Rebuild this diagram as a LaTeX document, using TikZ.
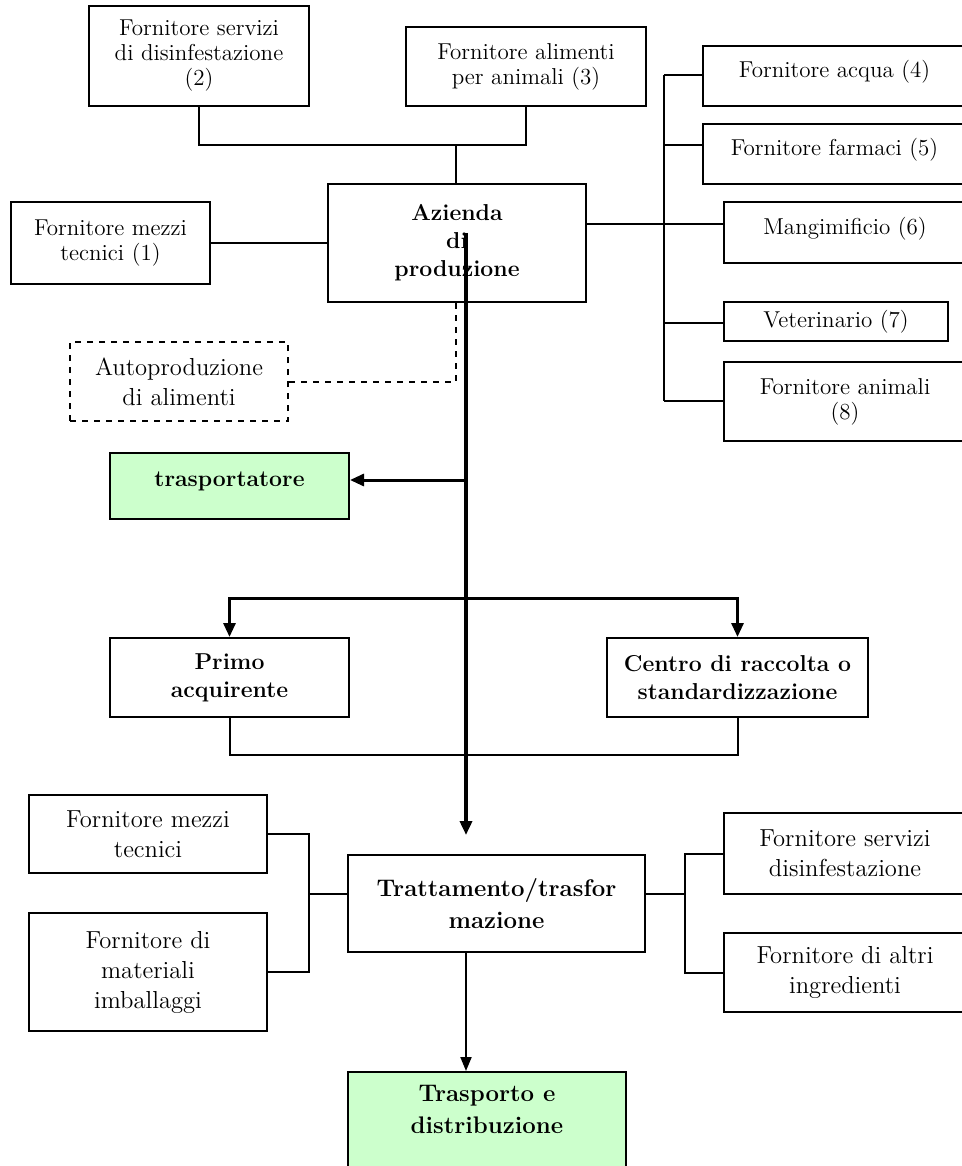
\documentclass[tikz,border=0pt]{standalone}
\usepackage{tikz}
\usetikzlibrary{arrows.meta,positioning}
\definecolor{paleGreen}{HTML}{CCFFCC}

\begin{document}
\begin{tikzpicture}[
  x=0.5pt, y=-0.5pt,
  sup_box/.style ={draw=black, line width=1pt, align=center, inner sep=2pt, font=\fontsize{11.5}{12.5}\selectfont},
  main_box/.style={draw=black, line width=1pt, align=center, inner sep=2pt, font=\fontsize{11.5}{14}\selectfont\bfseries},
  low_box/.style ={draw=black, line width=1pt, align=center, inner sep=2pt, font=\fontsize{12.3}{15}\selectfont},
  low_main/.style={draw=black, line width=1pt, align=center, inner sep=2pt, font=\fontsize{12}{16}\selectfont\bfseries},
  green_box/.style={fill=paleGreen},
  top_text/.style={text depth=7pt},
  link/.style    ={line width=1pt, black},
  arr/.style     ={-{Triangle[length=7pt, width=6pt]}, line width=2pt, black},
  arr_mid/.style ={-{Triangle[length=7pt, width=6pt]}, line width=1.5pt, black},
  arr_thin/.style={-{Triangle[length=7pt, width=5.5pt]}, line width=1pt, black},
]
  \useasboundingbox (0,0) rectangle (962,1166);
  \fill[white] (0,0) rectangle (962,1166);
  \clip (0,0) rectangle (962,1166);

  % production farm and its suppliers
  \node[sup_box, minimum width=110pt, minimum height=50pt]                (sup2)  at (199,56)      {Fornitore servizi\\di disinfestazione\\(2)};
  \node[sup_box, minimum width=120pt, minimum height=39.5pt]              (sup3)  at (526,66.5)    {Fornitore alimenti\\per animali (3)};
  \node[main_box, minimum width=129pt, minimum height=59pt]               (az)    at (457,243)     {Azienda\\di\\produzione};
  \node[sup_box, minimum width=99.5pt, minimum height=41pt]               (sup1)  at (110.5,243)   {Fornitore mezzi\\tecnici (1)};
  \node[sup_box, top_text, minimum width=131.5pt, minimum height=30pt]    (sup4)  at (834.5,76)    {Fornitore acqua (4)};
  \node[sup_box, top_text, minimum width=131.5pt, minimum height=30pt]    (sup5)  at (834.5,154)   {Fornitore farmaci (5)};
  \node[sup_box, top_text, minimum width=121pt, minimum height=30.5pt]    (sup6)  at (845,232.5)   {Mangimificio (6)};
  \node[sup_box, minimum width=112pt, minimum height=19.5pt]              (sup7)  at (836,321.5)   {Veterinario (7)};
  \node[sup_box, minimum width=121pt, minimum height=39.5pt]              (sup8)  at (845,401.5)   {Fornitore animali\\(8)};
  \node[low_box, dashed, minimum width=109pt, minimum height=39.5pt]      (auto)  at (179,381.5)   {Autoproduzione\\di alimenti};
  \node[main_box, green_box, top_text, minimum width=119.5pt, minimum height=33pt] (trasp) at (229.5,486) {trasportatore};
  \node[main_box, minimum width=119.5pt, minimum height=39.5pt]           (primo) at (229.5,677.5) {Primo\\acquirente};
  \node[main_box, minimum width=130.5pt, minimum height=39.5pt]           (centro) at (737.5,677.5) {Centro di raccolta o\\standardizzazione};

  % processing stage
  \node[low_box, minimum width=119pt, minimum height=39pt]                (tech)   at (148,834)     {Fornitore mezzi\\tecnici};
  \node[low_box, minimum width=119pt, minimum height=59pt]                (pack)   at (148,972)     {Fornitore di\\materiali\\imballaggi};
  \node[low_main, minimum width=148.5pt, minimum height=48.5pt]           (trat)   at (496.5,903.5) {Trattamento/trasfor\\mazione};
  \node[low_box, minimum width=121pt, minimum height=40.5pt]              (disinf) at (845,853.5)   {Fornitore servizi\\disinfestazione};
  \node[low_box, minimum width=121pt, minimum height=39.5pt]              (ingr)   at (845,972.5)   {Fornitore di altri\\ingredienti};
  \node[low_main, green_box, text depth=27pt, minimum width=139pt, minimum height=64pt] (distr) at (487,1136) {Trasporto e\\distribuzione};

  \coordinate (topj) at (456,145);
  \coordinate (rb4) at (664,75);
  \coordinate (rb5) at (664,145);
  \coordinate (rb6) at (664,224);
  \coordinate (rb7) at (664,323);
  \coordinate (rb8) at (664,401);
  \coordinate (spine) at (466,233);
  \coordinate (spine_end) at (466,835);
  \coordinate (tr) at (466,480);
  \coordinate (fork) at (466,598);
  \coordinate (back) at (466,755);
  \coordinate (lb) at (309,894);
  \coordinate (rbb) at (685,894);

  \draw[link] (sup2.south) |- (topj) -| (sup3.south);
  \draw[link] (topj) -- (topj |- az.north);
  \draw[link] (sup1.east) -- (az.west);
  \draw[link] (rb4) -- (rb8);
  \draw[link] (rb4) -- (rb4 -| sup4.west);
  \draw[link] (rb5) -- (rb5 -| sup5.west);
  \draw[link] (rb6 -| az.east) -- (rb6 -| sup6.west);
  \draw[link] (rb7) -- (rb7 -| sup7.west);
  \draw[link] (rb8) -- (rb8 -| sup8.west);
  \draw[link, dashed] (topj |- az.south) |- (auto.east);

  \draw[arr] (spine) -- (spine_end);
  \draw[arr_mid] (tr) -- (tr -| trasp.east);
  \draw[arr_mid] (fork) -| (primo.north);
  \draw[arr_mid] (fork) -| (centro.north);
  \draw[link] (primo.south) |- (back) -| (centro.south);

  \draw[link] (tech.east) -| (lb) |- (pack.east);
  \draw[link] (lb) -- (lb -| trat.west);
  \draw[link] (disinf.west) -| (rbb) |- (ingr.west);
  \draw[link] (trat.east |- rbb) -- (rbb);
  \draw[arr_thin] (trat.south -| spine) -- (distr.north -| spine);
\end{tikzpicture}
\end{document}
